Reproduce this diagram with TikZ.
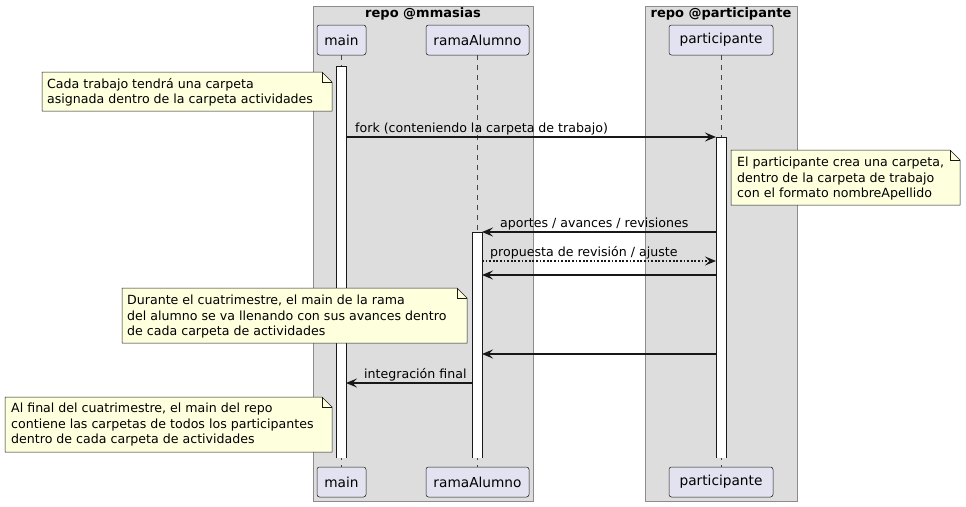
\documentclass[tikz,border=0pt]{standalone}
\usepackage{fontspec}
\setmainfont{DejaVu Sans}
\usetikzlibrary{arrows.meta}
\definecolor{boxbg}{HTML}{DDDDDD}
\definecolor{boxline}{HTML}{8C8C8C}
\definecolor{partfill}{HTML}{E2E2F0}
\definecolor{ink}{HTML}{181818}
\definecolor{notefill}{HTML}{FEFFDD}
\tikzset{
  repobox/.style={fill=boxbg, draw=boxline, line width=0.8pt},
  repotitle/.style={font=\fontsize{13}{15}\selectfont\bfseries, inner sep=0pt},
  partbox/.style={draw=ink, fill=partfill, line width=0.5pt, rounded corners=2.5pt,
    font=\fontsize{13.7}{16}\selectfont, inner sep=0pt, minimum height=30pt},
  lifeline/.style={draw=ink!80, line width=0.5pt, dash pattern=on 5pt off 5pt},
  actfill/.style={fill=white},
  actside/.style={draw=ink, line width=1pt},
  notebody/.style={draw=ink, fill=notefill, line width=0.5pt},
  notefold/.style={draw=ink, line width=0.5pt},
  notetext/.style={font=\fontsize{12.6}{15.3}\selectfont, align=left, inner sep=0pt, anchor=north west},
  msg/.style={draw=ink, line width=1.5pt, -{Stealth[length=11pt,width=9pt,inset=4.5pt]}},
  msgdot/.style={msg, dash pattern=on 1.8pt off 1.8pt},
  msglabel/.style={font=\fontsize{12.6}{15}\selectfont, inner sep=0pt, anchor=base west},
}
\newcommand{\drawnote}[5]{% name, x1, y1, x2, y2
  \path[notebody] (#2,#3) -- (#4-10,#3) -- (#4,#3+10) -- (#4,#5) -- (#2,#5) -- cycle;
  \path[notefold] (#4-10,#3) -- (#4-10,#3+10) -- (#4,#3+10);
  \coordinate (#1) at (#2,#3);
}
\newcommand{\drawbar}[4]{% x1, y1, x2, y2 : open at the bottom
  \path[actfill] (#1,#2) rectangle (#3,#4);
  \path[actside] (#1,#4) -- (#1,#2) -- (#3,#2) -- (#3,#4);
}
\begin{document}
\begin{tikzpicture}[x=1pt,y=-1pt]
\useasboundingbox (0,0) rectangle (966,506);
\fill[white] (0,0) rectangle (966,506);

% repo boxes
\path[repobox] (313,6) rectangle (533,501);
\path[repobox] (645,6) rectangle (797,501);
\node[repotitle] (t1) at (423,14) {repo @mmasias};
\node[repotitle] (t2) at (721,14) {repo @participante};

% participants
\node[partbox, minimum width=49pt] (mainT) at (341.5,40) {main};
\node[partbox, minimum width=103pt] (ramaT) at (477.5,40) {ramaAlumno};
\node[partbox, minimum width=104pt] (partT) at (721,40) {participante};
\node[partbox, minimum width=49pt] (mainB) at (341.5,482) {main};
\node[partbox, minimum width=103pt] (ramaB) at (477.5,482) {ramaAlumno};
\node[partbox, minimum width=104pt] (partB) at (721,482) {participante};

% lifelines
\draw[lifeline] (mainT.south) -- (mainB.north);
\draw[lifeline] (ramaT.south) -- (ramaB.north);
\draw[lifeline] (partT.south) -- (partB.north);

% activation bars
\drawbar{336}{66}{346}{458}
\drawbar{472}{232}{482}{458}
\drawbar{716}{137}{726}{458}

% coordinates on bars
\coordinate (mR137) at (346,137);
\coordinate (pL137) at (716,137);
\coordinate (pL232) at (716,232);
\coordinate (rR232) at (482,232);
\coordinate (rR261) at (482,261);
\coordinate (pL261) at (716,261);
\coordinate (pL275) at (716,275);
\coordinate (rR275) at (482,275);
\coordinate (pL354) at (716,354);
\coordinate (rR354) at (482,354);
\coordinate (rL383) at (472,383);
\coordinate (mR383) at (346,383);

% notes
\drawnote{n1}{42}{72}{332}{111}
\node[notetext] (n1t) at (47,78) {Cada trabajo tendrá una carpeta\\asignada dentro de la carpeta actividades};
\drawnote{n2}{731}{150}{960}{205}
\node[notetext] (n2t) at (737,157) {El participante crea una carpeta,\\dentro de la carpeta de trabajo\\con el formato nombreApellido};
\drawnote{n3}{122}{288}{467}{343}
\node[notetext] (n3t) at (127,295) {Durante el cuatrimestre, el main de la rama\\del alumno se va llenando con sus avances dentro\\de cada carpeta de actividades};
\drawnote{n4}{5}{397}{332}{452}
\node[notetext] (n4t) at (11,403) {Al final del cuatrimestre, el main del repo\\contiene las carpetas de todos los participantes\\dentro de cada carpeta de actividades};

% messages
\draw[msg] (mR137) -- (pL137);
\node[msglabel] (l1) at (355,132.5) {fork (conteniendo la carpeta de trabajo)};
\draw[msg] (pL232) -- (rR232);
\node[msglabel] (l2) at (500,227.5) {aportes / avances / revisiones};
\draw[msgdot] (rR261) -- (pL261);
\node[msglabel] (l3) at (490,256.5) {propuesta de revisión / ajuste};
\draw[msg] (pL275) -- (rR275);
\draw[msg] (pL354) -- (rR354);
\draw[msg] (rL383) -- (mR383);
\node[msglabel] (l4) at (364,378.5) {integración final};
\end{tikzpicture}
\end{document}
